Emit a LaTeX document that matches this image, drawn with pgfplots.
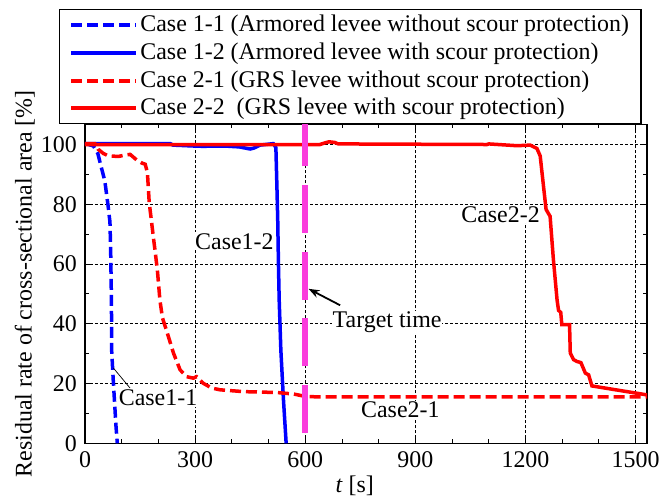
\documentclass[border=0pt]{standalone}
\usepackage{pgfplots}
\pgfplotsset{compat=1.18}
\usepackage{fontspec}
\setmainfont{Liberation Serif}
\usetikzlibrary{arrows.meta}
\definecolor{tgt}{RGB}{250,60,220}
\begin{document}
{\fontsize{24}{28}\selectfont
\begin{tikzpicture}
\begin{axis}[
  at={(0,0)}, anchor=south west,
  scale only axis, width=562bp, height=318.8bp,
  xmin=0, xmax=1531, ymin=0, ymax=106.7,
  xtick={0,300,...,1500}, ytick={0,20,...,100},
  minor x tick num=2, minor y tick num=1,
  tick align=inside,
  major tick length=6bp, minor tick length=4bp,
  every tick/.style={black, line width=0.9bp},
  axis line style={line width=1.3bp},
  grid=major,
  major grid style={black, line width=0.6bp, dash pattern=on 3bp off 2bp},
  /pgf/number format/assume math mode=true,
  /pgf/number format/1000 sep={},
  tick label style={font=\fontsize{24}{28}\selectfont},
  xlabel={\textit{t} [s]},
  ylabel={Residual rate of cross-sectional area [\%]},
  xlabel style={at={(axis description cs:0.48,-0.132)}, anchor=center},
  ylabel style={at={(axis description cs:-0.107,0.5)}, anchor=center},
  legend cell align=left,
  legend image code/.code={\draw[#1, line width=3.8bp] (0bp,0bp) -- (65bp,0bp);},
  legend style={at={(rel axis cs:0,1)}, anchor=south west, xshift=-26bp,
    draw=black, line width=1.2bp, inner xsep=10bp, inner ysep=3.5bp,
    row sep=3.5bp,
    font=\fontsize{24}{28}\selectfont},
]
\addplot[blue, line width=3.5bp, dash pattern=on 11bp off 5bp] coordinates {
(0,100.3) (10,100) (23,99.5) (35,97) (41,94) (54,87.8) (63,79.4) (68,74)
(70,64) (72,48) (72.7,31) (77,21) (84.5,5.6) (88,0)};
\addlegendentry{Case 1-1 (Armored levee without scour protection)}
\addplot[blue, line width=3.5bp] coordinates {
(0,100.3) (232,100.3) (240,99.8) (295,99.5) (320,99.4) (380,99.5) (420,99.2)
(450,98.5) (460,98.8) (477,99.8) (513,100.3) (520,99) (523,85) (525,75)
(527,60) (529,48) (533.5,31.3) (540.7,14.5) (548,0)};
\addlegendentry{Case 1-2 (Armored levee with scour protection)}
\addplot[red, line width=3.5bp, dash pattern=on 11bp off 5bp] coordinates {
(0,100.3) (27,100.3) (36,98.4) (50,97) (63.5,96.2) (91,96) (110,96.5) (123,96.7)
(141,94.8) (155,93.8) (164,93.4) (170,90.6) (175,80.5) (186,69.3) (197,58.2)
(204,48) (211,42) (227,35.8) (241,30.2) (259,24.6) (277,22.3) (295,21.8)
(304,22.3) (322,20.1) (345,18.5) (368,17.9) (431,17.3) (522,17) (568,16.5)
(604,15.6) (700,15.5) (1531,15.5)};
\addlegendentry{Case 2-1 (GRS levee without scour protection)}
\addplot[red, line width=3.5bp] coordinates {
(0,100) (640,100) (655,100.6) (665,100.9) (680,100.7) (690,100.2) (1095,100)
(1100,100.2) (1177,99.6) (1213,99.8) (1231,98.7) (1240,96.2) (1249,86.1)
(1256,78.3) (1262,77) (1267,76) (1276,61.5) (1286,48) (1290,44.5) (1296,43.8)
(1299,39.7) (1320,39.7) (1322,30.2) (1331,28) (1340,27.4) (1351,27) (1363,23.5)
(1372,22.9) (1381,19.2) (1531,16.2)};
\addlegendentry{Case 2-2\ \ (GRS levee with scour protection)}
\addplot[tgt, line width=6bp, dash pattern=on 48bp off 18.7bp, forget plot]
  coordinates {(600,3.4) (600,110)};
\node[fill=white, inner sep=1bp] at (axis cs:407,67.6) {Case1-2};
\node[fill=white, inner sep=1bp] at (axis cs:1132,76.6) {Case2-2};
\node[fill=white, inner sep=1bp] at (axis cs:823,40.4) {Target time};
\node[fill=white, inner sep=1bp] at (axis cs:199,15.2) {Case1-1};
\node[fill=white, inner sep=1bp] at (axis cs:859,11.2) {Case2-1};
\draw[line width=1.8bp, -{Stealth[length=11bp,width=8bp]}] (axis cs:695,46.2) -- (axis cs:609,51.7);
\draw[line width=0.7bp] (axis cs:77.3,25.2) -- (axis cs:122.6,18.5);
\end{axis}
\pgfresetboundingbox
\path (-85bp,-52.7bp) rectangle (574bp,443.3bp);
\end{tikzpicture}}
\end{document}
